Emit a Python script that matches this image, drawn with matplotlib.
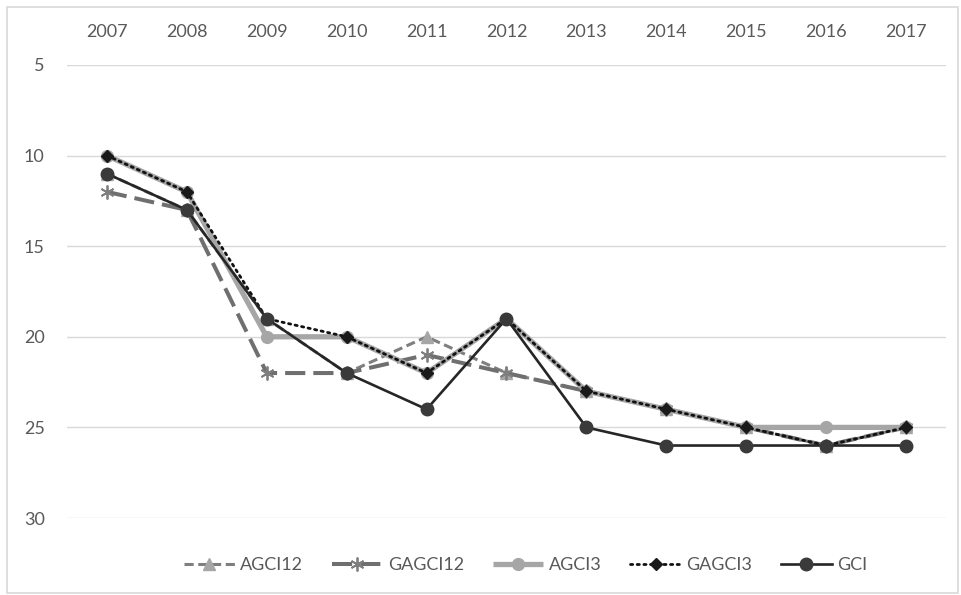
import matplotlib.pyplot as plt
from matplotlib.patches import Rectangle

years = [2007, 2008, 2009, 2010, 2011, 2012, 2013, 2014, 2015, 2016, 2017]
agci12 = [11, 13, 19, 22, 20, 22, 23, 24, 25, 26, 25]
gagci12 = [12, 13, 22, 22, 21, 22, 23, 24, 25, 26, 25]
agci3 = [10, 12, 20, 20, 22, 19, 23, 24, 25, 25, 25]
gagci3 = [10, 12, 19, 20, 22, 19, 23, 24, 25, 26, 25]
gci = [11, 13, 19, 22, 24, 19, 25, 26, 26, 26, 26]
y_ticks = [5, 10, 15, 20, 25, 30]

plt.rcParams["font.family"] = ["Lato", "DejaVu Sans"]
txt = "#595959"

fig = plt.figure(figsize=(9.61, 5.95), dpi=100)
ax = fig.add_axes([0.0697, 0.1294, 0.9147, 0.7614])

# chart border
fig.patches.append(Rectangle((0.007, 0.004), 0.99, 0.984, transform=fig.transFigure,
                             fill=False, edgecolor="#d9d9d9", linewidth=1.2))

ax.plot(years, agci12, color="#7f7f7f", linewidth=2.2, dashes=(3, 1.5),
        marker="^", markersize=8, markerfacecolor="#a6a6a6", markeredgecolor="#a6a6a6",
        label="AGCI12")
ax.plot(years, gagci12, color="#6f6f6f", linewidth=2.9, dashes=(5, 2),
        marker=(6, 2, 0), markersize=10, markeredgecolor="#7f7f7f", markeredgewidth=1.3,
        label="GAGCI12")
ax.plot(years, agci3, color="#a6a6a6", linewidth=3.8, solid_capstyle="butt",
        marker="o", markersize=8.5, markerfacecolor="#a6a6a6", markeredgecolor="#a6a6a6",
        label="AGCI3")
ax.plot(years, gagci3, color="#111111", linewidth=2.0, linestyle=(0, (0.8, 1.6)),
        dash_capstyle="round",
        marker="D", markersize=6.5, markerfacecolor="#1a1a1a", markeredgecolor="#1a1a1a",
        label="GAGCI3")
ax.plot(years, gci, color="#262626", linewidth=1.9,
        marker="o", markersize=9, markerfacecolor="#3a3a3a", markeredgecolor="#3a3a3a",
        label="GCI")

ax.set_xlim(2006.5, 2017.5)
ax.set_ylim(30, 5)
ax.set_xticks(years)
ax.set_xticklabels([str(y) for y in years])
ax.set_yticks(y_ticks)
ax.xaxis.tick_top()
ax.tick_params(axis="both", length=0, labelsize=13, colors=txt)
ax.tick_params(axis="x", pad=18)
ax.tick_params(axis="y", pad=16)
ax.grid(axis="y", color="#d9d9d9", linewidth=1)
ax.set_axisbelow(True)
for s in ax.spines.values():
    s.set_visible(False)

leg = fig.legend(loc="center", bbox_to_anchor=(0.547, 0.05), ncol=5, frameon=False,
                 fontsize=13, labelcolor=txt, handlelength=2.8, columnspacing=1.6,
                 handletextpad=0.3)

plt.savefig("out.png", dpi=100)
